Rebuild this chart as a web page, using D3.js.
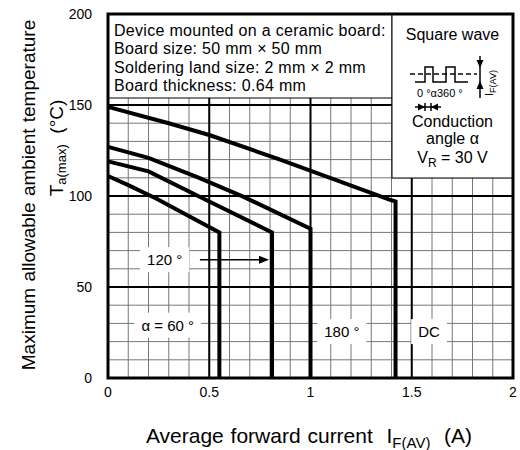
<!DOCTYPE html>
<html lang="en">
<head>
<meta charset="UTF-8">
<title>Derating curve</title>
<style>
    body { margin: 0; background: #fff; }
    svg { display: block; font-family: "Liberation Sans", Arial, sans-serif; }
</style>
</head>
<body>
<svg id="chart" width="520" height="450"></svg>
<script src="https://d3js.org/d3.v7.min.js"></script>
<script>
    // curves: average forward current (A) vs Ta(max) (degC)
    const curveNames = ["DC", "180", "120", "60"];
    const iDC = [0, 0.3, 0.5, 0.85, 1.39, 1.42, 1.42];
    const tDC = [149, 140, 133.5, 120, 98, 97, 0];
    const i180 = [0, 0.2, 0.45, 0.67, 1.0, 1.0];
    const t180 = [127, 121, 110, 99.5, 82, 0];
    const i120 = [0, 0.2, 0.49, 0.81, 0.81];
    const t120 = [119, 113.5, 97.5, 80, 0];
    const i60 = [0, 0.1, 0.24, 0.55, 0.55];
    const t60 = [111, 106, 98.5, 80, 0];

    const xTicks = [0, 0.5, 1, 1.5, 2];
    const yTicks = [0, 50, 100, 150, 200];

    const boardNotes = [
        "Device mounted on a ceramic board:",
        "Board size: 50 mm \u00d7 50 mm",
        "Soldering land size: 2 mm \u00d7 2 mm",
        "Board thickness: 0.64 mm"
    ];

    const svg = d3.select("#chart");
    const pLeft = 108, pRight = 513, pTop = 14, pBottom = 378;

    const x = d3.scaleLinear().domain([0, 2]).range([pLeft, pRight]);
    const y = d3.scaleLinear().domain([0, 200]).range([pBottom, pTop]);

    // grid
    const grid = svg.append("g");
    grid.selectAll(".vminor")
        .data(d3.range(1, 20).map(d => d / 10))
        .enter().append("line")
        .attr("x1", d => x(d)).attr("x2", d => x(d))
        .attr("y1", pTop).attr("y2", pBottom)
        .attr("stroke", "#777").attr("stroke-width", 1);
    grid.selectAll(".hminor")
        .data(d3.range(10, 200, 10))
        .enter().append("line")
        .attr("x1", pLeft).attr("x2", pRight)
        .attr("y1", d => y(d)).attr("y2", d => y(d))
        .attr("stroke", "#777").attr("stroke-width", 1);
    grid.selectAll(".vmajor")
        .data([0.5, 1, 1.5])
        .enter().append("line")
        .attr("x1", d => x(d)).attr("x2", d => x(d))
        .attr("y1", pTop).attr("y2", pBottom)
        .attr("stroke", "#000").attr("stroke-width", 2);
    grid.selectAll(".hmajor")
        .data([50, 100, 150])
        .enter().append("line")
        .attr("x1", pLeft).attr("x2", pRight)
        .attr("y1", d => y(d)).attr("y2", d => y(d))
        .attr("stroke", "#000").attr("stroke-width", 2);

    // info boxes
    svg.append("rect")
        .attr("x", pLeft).attr("y", pTop).attr("width", 392 - pLeft).attr("height", 98 - pTop)
        .attr("fill", "#fff").attr("stroke", "#000").attr("stroke-width", 1);
    svg.selectAll(".note")
        .data(boardNotes)
        .enter().append("text")
        .attr("x", 114).attr("y", (d, i) => 36 + i * 18.3)
        .attr("font-size", 16).attr("letter-spacing", 0.3).text(d => d);

    const bx = 392, bw = pRight - 392;
    svg.append("rect")
        .attr("x", bx).attr("y", pTop).attr("width", bw).attr("height", 178 - pTop)
        .attr("fill", "#fff").attr("stroke", "#000").attr("stroke-width", 1);
    const cx = bx + bw / 2;
    svg.append("text").attr("x", cx).attr("y", 40).attr("text-anchor", "middle")
        .attr("font-size", 16).text("Square wave");
    svg.append("text").attr("x", cx).attr("y", 127).attr("text-anchor", "middle")
        .attr("font-size", 16).text("Conduction");
    svg.append("text").attr("x", cx).attr("y", 144).attr("text-anchor", "middle")
        .attr("font-size", 16).text("angle \u03b1");
    const vr = svg.append("text").attr("x", cx).attr("y", 163).attr("text-anchor", "middle")
        .attr("font-size", 16);
    vr.append("tspan").text("V");
    vr.append("tspan").attr("font-size", 12).attr("dy", 4).text("R");
    vr.append("tspan").attr("dy", -4).text(" = 30 V");

    // square wave glyph
    const glyph = svg.append("g").attr("fill", "none").attr("stroke", "#000").attr("stroke-width", 1.5);
    glyph.append("line").attr("x1", 410).attr("x2", 477).attr("y1", 74).attr("y2", 74)
        .attr("stroke-dasharray", "5,3");
    glyph.append("path").attr("d", "M415,82H425V67H433V82H446V67H455V82H468");
    glyph.append("line").attr("x1", 480).attr("x2", 480).attr("y1", 56).attr("y2", 98);
    glyph.append("line").attr("x1", 415).attr("x2", 441).attr("y1", 107).attr("y2", 107);
    glyph.append("line").attr("x1", 425).attr("x2", 425).attr("y1", 103).attr("y2", 111);
    glyph.append("line").attr("x1", 431).attr("x2", 431).attr("y1", 103).attr("y2", 111);
    const heads = svg.append("g").attr("fill", "#000");
    heads.append("path").attr("d", "M480,68l-3.5,-8h7z");
    heads.append("path").attr("d", "M480,81l-3.5,8h7z");
    heads.append("path").attr("d", "M425,107l-7,-3.5v7z");
    heads.append("path").attr("d", "M431,107l7,-3.5v7z");
    svg.append("text").attr("x", 417).attr("y", 97).attr("font-size", 11).text("0 \u00b0\u03b1360 \u00b0");
    const ifl = svg.append("text").attr("transform", "translate(493,96) rotate(-90)")
        .attr("font-size", 11);
    ifl.append("tspan").text("I");
    ifl.append("tspan").attr("font-size", 9).attr("dy", 3).text("F(AV)");

    // curve labels with white backing
    const labels = [
        { t: "120 \u00b0", i: 0.28, v: 65 },
        { t: "\u03b1 = 60 \u00b0", i: 0.295, v: 29 },
        { t: "180 \u00b0", i: 1.155, v: 25.5 },
        { t: "DC", i: 1.585, v: 25.5 }
    ];
    labels.forEach(l => {
        const g = svg.append("g");
        const r = g.append("rect").attr("fill", "#fff");
        const t = g.append("text").attr("x", x(l.i)).attr("y", y(l.v))
            .attr("text-anchor", "middle").attr("dominant-baseline", "central")
            .attr("font-size", 15).text(l.t);
        const b = t.node().getBBox();
        r.attr("x", b.x - 7).attr("y", b.y - 4).attr("width", b.width + 14).attr("height", b.height + 8);
    });

    // curves
    const line = d3.line().x(d => x(d[0])).y(d => y(d[1]));
    const series = [[iDC, tDC], [i180, t180], [i120, t120], [i60, t60]];
    svg.selectAll(".curve")
        .data(series)
        .enter().append("path")
        .attr("class", (d, k) => "curve c" + curveNames[k])
        .attr("d", d => line(d[0].map((v, k) => [v, d[1][k]])))
        .attr("fill", "none").attr("stroke", "#000").attr("stroke-width", 4)
        .attr("stroke-linejoin", "miter");

    // arrow for 120 label
    svg.append("line").attr("x1", x(0.454)).attr("x2", x(0.77)).attr("y1", y(65)).attr("y2", y(65))
        .attr("stroke", "#000").attr("stroke-width", 1.5);
    svg.append("path")
        .attr("d", `M${x(0.795)},${y(65)}l-10,-4v8z`).attr("fill", "#000");

    // frame
    svg.append("rect").attr("x", pLeft).attr("y", pTop).attr("width", pRight - pLeft).attr("height", pBottom - pTop)
        .attr("fill", "none").attr("stroke", "#000").attr("stroke-width", 3);

    // ticks
    svg.selectAll(".xt")
        .data(xTicks)
        .enter().append("text")
        .attr("x", d => x(d)).attr("y", 397).attr("text-anchor", "middle")
        .attr("font-size", 14).text(d => d);
    svg.selectAll(".yt")
        .data(yTicks)
        .enter().append("text")
        .attr("x", 92).attr("y", d => y(d)).attr("text-anchor", "end")
        .attr("dominant-baseline", "central")
        .attr("font-size", 14).text(d => d);

    // axis titles
    const xl = svg.append("text").attr("x", 309).attr("y", 443).attr("text-anchor", "middle")
        .attr("font-size", 21).attr("word-spacing", 1).attr("xml:space", "preserve");
    xl.append("tspan").text("Average forward current  I");
    xl.append("tspan").attr("font-size", 15).attr("dy", 5).text("F(AV)");
    xl.append("tspan").attr("dy", -5).text("  (A)");

    svg.append("text").attr("transform", "translate(28,195) rotate(-90)")
        .attr("text-anchor", "middle").attr("dominant-baseline", "central")
        .attr("font-size", 19).attr("word-spacing", 1).text("Maximum allowable ambient temperature");
    const yl = svg.append("text").attr("transform", "translate(56,148) rotate(-90)")
        .attr("text-anchor", "middle").attr("dominant-baseline", "central")
        .attr("font-size", 19).attr("xml:space", "preserve");
    yl.append("tspan").text("T");
    yl.append("tspan").attr("font-size", 13).attr("dy", 5).text("a(max)");
    yl.append("tspan").attr("dy", -5).text("  (\u00b0C)");
</script>
</body>
</html>
